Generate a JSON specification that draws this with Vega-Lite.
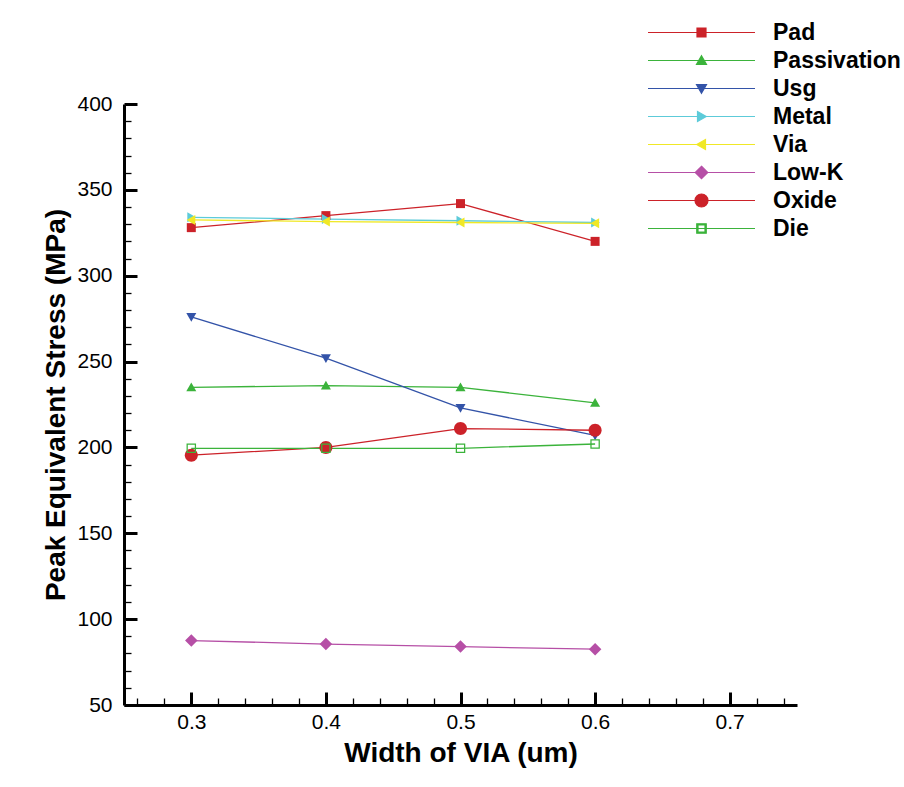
{
  "$schema": "https://vega.github.io/schema/vega-lite/v6.json",
  "width": 673,
  "height": 601,
  "autosize": {"type": "none"},
  "padding": {"left": 124, "top": 104, "right": 107, "bottom": 82},
  "background": "white",
  "data": {
    "values": [
      {"width": 0.3, "stress": 328, "series": "Pad"},
      {"width": 0.4, "stress": 335, "series": "Pad"},
      {"width": 0.5, "stress": 342, "series": "Pad"},
      {"width": 0.6, "stress": 320, "series": "Pad"},
      {"width": 0.3, "stress": 235, "series": "Passivation"},
      {"width": 0.4, "stress": 236, "series": "Passivation"},
      {"width": 0.5, "stress": 235, "series": "Passivation"},
      {"width": 0.6, "stress": 226, "series": "Passivation"},
      {"width": 0.3, "stress": 276, "series": "Usg"},
      {"width": 0.4, "stress": 252, "series": "Usg"},
      {"width": 0.5, "stress": 223, "series": "Usg"},
      {"width": 0.6, "stress": 207, "series": "Usg"},
      {"width": 0.3, "stress": 334, "series": "Metal"},
      {"width": 0.4, "stress": 333, "series": "Metal"},
      {"width": 0.5, "stress": 332, "series": "Metal"},
      {"width": 0.6, "stress": 331, "series": "Metal"},
      {"width": 0.3, "stress": 332.5, "series": "Via"},
      {"width": 0.4, "stress": 331.5, "series": "Via"},
      {"width": 0.5, "stress": 331, "series": "Via"},
      {"width": 0.6, "stress": 330.5, "series": "Via"},
      {"width": 0.3, "stress": 87.5, "series": "Low-K"},
      {"width": 0.4, "stress": 85.5, "series": "Low-K"},
      {"width": 0.5, "stress": 84, "series": "Low-K"},
      {"width": 0.6, "stress": 82.5, "series": "Low-K"},
      {"width": 0.3, "stress": 195.5, "series": "Oxide"},
      {"width": 0.4, "stress": 200, "series": "Oxide"},
      {"width": 0.5, "stress": 211, "series": "Oxide"},
      {"width": 0.6, "stress": 210, "series": "Oxide"},
      {"width": 0.3, "stress": 199.5, "series": "Die"},
      {"width": 0.4, "stress": 199.5, "series": "Die"},
      {"width": 0.5, "stress": 199.5, "series": "Die"},
      {"width": 0.6, "stress": 202, "series": "Die"}
    ]
  },
  "encoding": {
    "x": {
      "field": "width",
      "type": "quantitative",
      "scale": {"domain": [0.25, 0.75], "nice": false, "zero": false},
      "axis": {
        "title": "Width of VIA (um)",
        "values": [0.26, 0.28, 0.3, 0.32, 0.34, 0.36, 0.38, 0.4, 0.42, 0.44, 0.46, 0.48, 0.5, 0.52, 0.54, 0.56, 0.58, 0.6, 0.62, 0.64, 0.66, 0.68, 0.7, 0.72, 0.74],
        "labelExpr": "abs(datum.value * 10 - round(datum.value * 10)) < 0.001 ? format(datum.value, '.1f') : ''",
        "tickSize": {"condition": {"test": "abs(datum.value * 10 - round(datum.value * 10)) < 0.001", "value": -13}, "value": -7},
        "tickWidth": {"condition": {"test": "abs(datum.value * 10 - round(datum.value * 10)) < 0.001", "value": 3}, "value": 1.3},
        "tickColor": "black",
        "domainColor": "black",
        "domainWidth": 3,
        "grid": false,
        "labelOverlap": false,
        "labelFlush": false,
        "labelFont": "Liberation Sans",
        "labelFontSize": 21,
        "labelColor": "black",
        "labelPadding": 19,
        "titleFont": "Liberation Sans",
        "titleFontSize": 28,
        "titleFontWeight": "bold",
        "titleColor": "black",
        "titlePadding": 1
      }
    },
    "y": {
      "field": "stress",
      "type": "quantitative",
      "scale": {"domain": [50, 400], "nice": false, "zero": false},
      "axis": {
        "title": "Peak Equivalent Stress (MPa)",
        "values": [50, 60, 70, 80, 90, 100, 110, 120, 130, 140, 150, 160, 170, 180, 190, 200, 210, 220, 230, 240, 250, 260, 270, 280, 290, 300, 310, 320, 330, 340, 350, 360, 370, 380, 390, 400],
        "labelExpr": "datum.value % 50 === 0 ? datum.label : ''",
        "tickSize": {"condition": {"test": "datum.value % 50 === 0", "value": -13}, "value": -7},
        "tickWidth": {"condition": {"test": "datum.value % 50 === 0", "value": 3}, "value": 1.3},
        "tickColor": "black",
        "domainColor": "black",
        "domainWidth": 3,
        "grid": false,
        "labelOverlap": false,
        "labelFlush": false,
        "labelFont": "Liberation Sans",
        "labelFontSize": 21,
        "labelColor": "black",
        "labelPadding": 25,
        "titleFont": "Liberation Sans",
        "titleFontSize": 28,
        "titleFontWeight": "bold",
        "titleColor": "black",
        "titlePadding": 6
      }
    },
    "color": {
      "field": "series",
      "type": "nominal",
      "scale": {
        "domain": ["Pad", "Passivation", "Usg", "Metal", "Via", "Low-K", "Oxide", "Die"],
        "range": ["#cc2229", "#3bb33b", "#3353a8", "#5dcbd9", "#f0e826", "#b64fa6", "#cc2229", "#3bb33b"]
      },
      "legend": {
        "orient": "none",
        "legendX": 566,
        "legendY": -83,
        "title": null,
        "padding": 0,
        "labelFont": "Liberation Sans",
        "labelFontSize": 23,
        "labelFontWeight": "bold",
        "labelColor": "black",
        "labelOpacity": 0,
        "labelOffset": 60,
        "rowPadding": 4,
        "symbolSize": 100,
        "symbolStrokeWidth": 1.2,
        "symbolType": "M-10.7,0H10.7"
      }
    }
  },
  "layer": [
    {"mark": {"type": "line", "strokeWidth": 1.3}},
    {
      "mark": {"type": "point", "filled": true, "opacity": 1, "size": 100, "strokeWidth": 0},
      "encoding": {
        "shape": {
          "field": "series",
          "type": "nominal",
          "sort": ["Pad", "Passivation", "Usg", "Metal", "Via", "Low-K", "Oxide", "Die"],
          "scale": {
            "range": [
              "M-0.9,-0.9H0.9V0.9H-0.9Z",
              "M0,-0.95L1,0.8L-1,0.8Z",
              "M0,0.95L1,-0.8L-1,-0.8Z",
              "M0.95,0L-0.8,1L-0.8,-1Z",
              "M-0.95,0L0.8,1L0.8,-1Z",
              "M0,-1.25L1.25,0L0,1.25L-1.25,0Z",
              "M1.3,0A1.3,1.3,0,1,1,-1.3,0A1.3,1.3,0,1,1,1.3,0Z",
              "M-0.95,-0.95H0.95V0.95H-0.95ZM-0.7,-0.7V0.7H0.7V-0.7Z"
            ]
          },
          "legend": {
            "orient": "none",
            "legendX": 566,
            "legendY": -83,
            "title": null,
            "padding": 0,
            "labelFont": "Liberation Sans",
            "labelFontSize": 23,
            "labelFontWeight": "bold",
            "labelColor": "black",
            "labelOffset": 60,
            "rowPadding": 4,
            "symbolSize": 100,
            "symbolStrokeWidth": 1.2,
            "symbolOpacity": 1,
            "symbolFillColor": {"expr": "scale('color', datum.value)"},
            "symbolStrokeColor": {"expr": "scale('color', datum.value)"}
          }
        }
      }
    }
  ],
  "config": {"view": {"stroke": null}, "font": "Liberation Sans"}
}
